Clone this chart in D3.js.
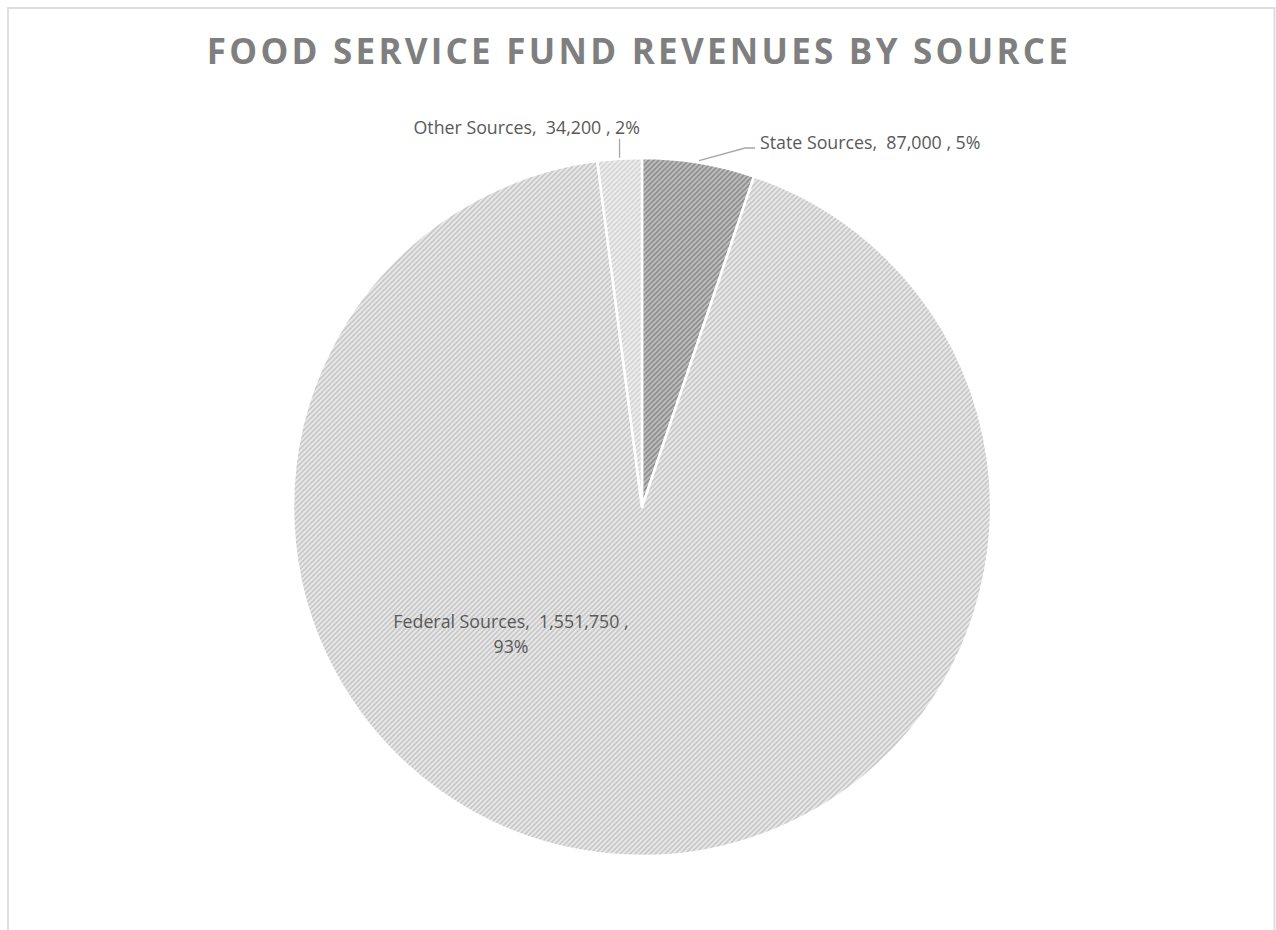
<!DOCTYPE html>
<html>
<head>
<meta charset="utf-8">
<script src="https://cdn.jsdelivr.net/npm/d3@7"></script>
<style>
  html, body { margin: 0; padding: 0; background: #fff; }
  svg { display: block; }
</style>
</head>
<body>
<svg id="chart" width="1276" height="930"></svg>
<script>
// Food service fund revenues, by source
const categories = ["State Sources", "Federal Sources", "Other Sources"];
const revenues = [87000, 1551750, 34200];

const W = 1276, H = 930;
const cx = 642, cy = 507, R = 349;

const svg = d3.select("#chart");

// chart frame
svg.append("path")
  .attr("d", `M8,${H} V8 H1274.5 V${H}`)
  .attr("fill", "none")
  .attr("stroke", "#dedede")
  .attr("stroke-width", 2);

// hatch patterns per slice
const defs = svg.append("defs");
const hatch = [
  { id: "hatch-state",   bg: "#bdbdbd", fg: "#8f8f8f" },
  { id: "hatch-federal", bg: "#e8e8e8", fg: "#c8c8c8" },
  { id: "hatch-other",   bg: "#eeeeee", fg: "#d4d4d4" }
];
hatch.forEach(h => {
  const p = defs.append("pattern")
    .attr("id", h.id)
    .attr("patternUnits", "userSpaceOnUse")
    .attr("width", 5).attr("height", 5);
  p.append("rect").attr("width", 5).attr("height", 5).attr("fill", h.bg);
  p.append("path")
    .attr("d", "M-1,1 L1,-1 M0,5 L5,0 M4,6 L6,4")
    .attr("stroke", h.fg).attr("stroke-width", 1.6);
});

// title
svg.append("text")
  .attr("x", 639).attr("y", 64)
  .attr("text-anchor", "middle")
  .attr("font-family", "'Open Sans', sans-serif")
  .attr("font-weight", "bold")
  .attr("font-size", 35)
  .attr("letter-spacing", 3.25)
  .attr("fill", "#7f7f7f")
  .text("FOOD SERVICE FUND REVENUES BY SOURCE");

const total = d3.sum(revenues);
const pie = d3.pie().sort(null).value(d => d.value);
const arcs = pie(categories.map((c, i) => ({ name: c, value: revenues[i], idx: i })));
const arc = d3.arc().innerRadius(0).outerRadius(R);

const g = svg.append("g").attr("transform", `translate(${cx},${cy})`);

g.selectAll("path.slice")
  .data(arcs)
  .join("path")
  .attr("class", "slice")
  .attr("d", arc)
  .attr("fill", d => `url(#${hatch[d.data.idx].id})`)
  .attr("stroke", "#fff")
  .attr("stroke-width", 2.5)
  .attr("stroke-linejoin", "round");

const fmt = d3.format(",");
const pct = d => Math.round(d.value / total * 100) + "%";
const lbl = d => `${d.data.name},\u00A0 ${fmt(d.data.value)} , ${pct(d)}`;

const labelFont = "'Open Sans', sans-serif";
const labelSize = 17.8;
const labelColor = "#595959";

// leader lines for the small slices
const leaderColor = "#a6a6a6";
const stateArc = arcs[0], otherArc = arcs[2];
const onRim = (a, r) => [Math.sin(a) * r, -Math.cos(a) * r];

const sMid = (stateArc.startAngle + stateArc.endAngle) / 2;
const s0 = onRim(sMid, R + 2);
g.append("polyline")
  .attr("points", [s0, [103, -359], [113, -359]].map(p => p.join(",")).join(" "))
  .attr("fill", "none").attr("stroke", leaderColor).attr("stroke-width", 1.3);

const oMid = (otherArc.startAngle + otherArc.endAngle) / 2;
const o0 = onRim(oMid, R + 1);
g.append("line")
  .attr("x1", o0[0]).attr("y1", o0[1])
  .attr("x2", o0[0]).attr("y2", -368)
  .attr("stroke", leaderColor).attr("stroke-width", 1.3);

// labels
g.append("text")
  .attr("x", 118).attr("y", -358)
  .attr("font-family", labelFont).attr("font-size", labelSize)
  .attr("fill", labelColor)
  .text(lbl(stateArc));

g.append("text")
  .attr("x", -2).attr("y", -373)
  .attr("text-anchor", "end")
  .attr("font-family", labelFont).attr("font-size", labelSize)
  .attr("fill", labelColor)
  .text(lbl(otherArc));

const fed = arcs[1];
const fedText = g.append("text")
  .attr("x", -131).attr("y", 121)
  .attr("text-anchor", "middle")
  .attr("font-family", labelFont).attr("font-size", labelSize)
  .attr("fill", labelColor);
fedText.append("tspan").attr("x", -131).attr("dy", 0)
  .text(`${fed.data.name},\u00A0 ${fmt(fed.data.value)} ,`);
fedText.append("tspan").attr("x", -131).attr("dy", 25)
  .text(pct(fed));
</script>
</body>
</html>
